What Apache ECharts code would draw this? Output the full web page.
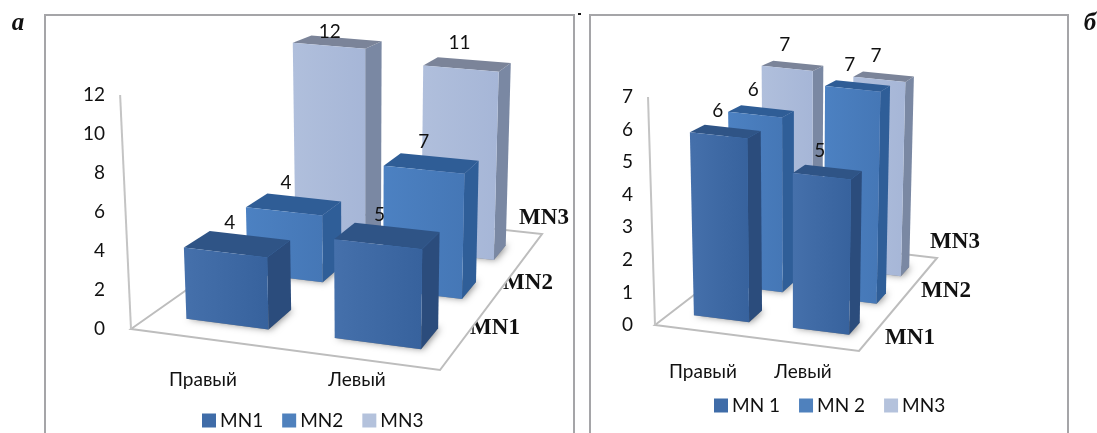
<!DOCTYPE html>
<html><head><meta charset="utf-8">
<style>html,body{margin:0;padding:0;background:#fff}#c{width:1097px;height:433px}</style>
<script src="https://cdn.jsdelivr.net/npm/echarts@6/dist/echarts.min.js"></script>
</head><body><div id="c"></div>
<script>
const categories = ['Правый', 'Левый'];
const namesA = ['MN1', 'MN2', 'MN3'];
const namesB = ['MN 1', 'MN 2', 'MN3'];
const depthLabels = ['MN1', 'MN2', 'MN3'];
// heights; the drawn labels are these values rounded
const a_MN1 = [3.85, 5.2];
const a_MN2 = [3.9, 7.1];
const a_MN3 = [12.1, 11.4];
const b_MN1 = [5.8, 4.9];
const b_MN2 = [5.85, 7.0];
const b_MN3 = [6.85, 6.8];
const ticksA = {min: 0, max: 12, interval: 2};
const ticksB = {min: 0, max: 7, interval: 1};

const FONT = 'Lato';
const FS = 19;
const palette = [
  {front: ['#4570ab', '#37629d'], top: '#2f5486', side: '#2b4c7c', legend: '#3f6ca8'},
  {front: ['#4c81c2', '#4577b6'], top: '#2f5d96', side: '#2f5e98', legend: '#4f81bd'},
  {front: ['#b0bfdc', '#a6b6d7'], top: '#7b8499', side: '#7a88a3', legend: '#b4c2dc'}
];

function makeCamera(c) {
  const [p0, p1, p2, p3] = c.floor;
  const dx1 = p1[0]-p2[0], dx2 = p3[0]-p2[0], sx = p0[0]-p1[0]+p2[0]-p3[0];
  const dy1 = p1[1]-p2[1], dy2 = p3[1]-p2[1], sy = p0[1]-p1[1]+p2[1]-p3[1];
  const det = dx1*dy2-dx2*dy1;
  const g = (sx*dy2-dx2*sy)/det, h = (dx1*sy-sx*dy1)/det;
  const A = p1[0]-p0[0]+g*p1[0], B = p3[0]-p0[0]+h*p3[0];
  const D = p1[1]-p0[1]+g*p1[1], E = p3[1]-p0[1]+h*p3[1];
  const K = 1/(c.vp[1]-p0[1]+c.axisPx);
  return function (u, v, hpx) {
    const t = -hpx*K;
    const W = g*u+h*v+1+t;
    return [(A*u+B*v+p0[0]+t*c.vp[0])/W, (D*u+E*v+p0[1]+t*c.vp[1])/W];
  };
}

const camA = makeCamera({floor: [[131,329],[440,370],[542,234],[303,208]], vp: [364,5340], axisPx: 234});
const camB = makeCamera({floor: [[655,325],[859,351],[937,258],[768,238]], vp: [795,4894], axisPx: 228});

function barRender(cam, vc, pal, bw, bd, uShift, labelMinY) {
  return function (params, api) {
    const cat = api.value(0), val = api.value(1);
    const base = api.coord([cat, 0]), top = api.coord([cat, val]);
    const cs = params.coordSys;
    const uc = (base[0]-cs.x)/cs.width + uShift;
    const hpx = base[1]-top[1];
    const u0 = uc-bw/2, u1 = uc+bw/2, v0 = vc-bd/2, v1 = vc+bd/2;
    const fl0 = cam(u0,v0,0), fr0 = cam(u1,v0,0), br0 = cam(u1,v1,0), bl0 = cam(u0,v1,0);
    const fl = cam(u0,v0,hpx), fr = cam(u1,v0,hpx), br = cam(u1,v1,hpx), bl = cam(u0,v1,hpx);
    const tc = cam(uc,vc,hpx);
    const grad = new echarts.graphic.LinearGradient(0,0,1,0,[{offset:0,color:pal.front[0]},{offset:1,color:pal.front[1]}]);
    return {type:'group', children:[
      {type:'polygon', shape:{points:[fl0,fr0,br0,bl0]}, style:{fill:'#888', shadowColor:'rgba(0,0,0,0.45)', shadowBlur:7, shadowOffsetX:2}},
      {type:'polygon', shape:{points:[fr0,br0,br,fr]}, style:{fill:pal.side}},
      {type:'polygon', shape:{points:[fl,fr,br,bl]}, style:{fill:pal.top}},
      {type:'polygon', shape:{points:[fl0,fr0,fr,fl]}, style:{fill:grad}},
      {type:'text', style:{x:tc[0]-8, y:Math.max(tc[1]-21, labelMinY), text:String(Math.round(val)), fill:'#111',
        font:FS+'px '+FONT, align:'center', verticalAlign:'middle'}}
    ]};
  };
}

function sceneRender(cam, axisPx) {
  return function () {
    const f = [cam(0,0,0), cam(1,0,0), cam(1,1,0), cam(0,1,0)];
    return {type:'group', children:[
      {type:'polygon', shape:{points:f}, style:{fill:'#fff', stroke:'#bdbdbd', lineWidth:2}},
      {type:'line', shape:{x1:f[0][0], y1:f[0][1], x2:cam(0,0,axisPx)[0], y2:cam(0,0,axisPx)[1]},
        style:{stroke:'#c4c4c4', lineWidth:2}}
    ]};
  };
}

function panelSeries(idx, cam, axisPx, names, rows, vcs, bw, bd, uShift, labelMinY) {
  const out = [{type:'custom', coordinateSystem:'cartesian2d', xAxisIndex:idx, yAxisIndex:idx,
    silent:true, clip:false, z:1, data:[[0,0]], renderItem:sceneRender(cam, axisPx)}];
  for (let d = 2; d >= 0; d--) {
    out.push({type:'custom', name:names[d], coordinateSystem:'cartesian2d', xAxisIndex:idx, yAxisIndex:idx,
      clip:false, silent:true, z:5-d, itemStyle:{color:palette[d].legend},
      encode:{x:0,y:1},
      data:rows[d].map((v,i)=>[i,v]),
      renderItem:barRender(cam, vcs[d], palette[d], bw, bd, uShift, labelMinY)});
  }
  return out;
}

function xAxisOf(idx, margin) {
  return {type:'category', gridIndex:idx, data:categories, axisLine:{show:false}, axisTick:{show:false},
    splitLine:{show:false}, axisLabel:{margin, fontFamily:FONT, fontSize:FS, color:'#111'}};
}
function yAxisOf(idx, t, margin) {
  return {type:'value', gridIndex:idx, min:t.min, max:t.max, interval:t.interval, axisLine:{show:false},
    axisTick:{show:false}, splitLine:{show:false}, axisLabel:{margin, fontFamily:FONT, fontSize:FS, color:'#111'}};
}
function legendOf(names, left, top, gap) {
  return {data:names, left, top, orient:'horizontal', itemWidth:14, itemHeight:14, itemGap:gap, icon:'rect',
    selectedMode:false, textStyle:{fontFamily:FONT, fontSize:FS, color:'#111', padding:[0,0,0,-1]}, padding:0};
}
function frame(x0, x1) {
  return {type:'polyline', shape:{points:[[x0,433],[x0,15],[x1,15],[x1,433]]},
    style:{fill:null, stroke:'#a5a5a8', lineWidth:2}, silent:true};
}
function bold(text, cx, cy) {
  return {type:'text', style:{x:cx, y:cy, text, font:'bold 23px "Liberation Serif"', fill:'#111',
    align:'center', verticalAlign:'middle'}};
}
function tag(text, cx, cy) {
  return {type:'text', style:{x:cx, y:cy, text, font:'italic bold 25px "Liberation Serif"', fill:'#111',
    align:'center', verticalAlign:'middle'}};
}

const option = {
  animation:false, backgroundColor:'#fff',
  grid:[
    {left:126, width:308, top:95, height:234},
    {left:653, width:200, top:97, height:228}
  ],
  xAxis:[xAxisOf(0,41), xAxisOf(1,37)],
  yAxis:[yAxisOf(0,ticksA,21), yAxisOf(1,ticksB,20)],
  legend:[legendOf(namesA,202,411,19), legendOf(namesB,714,396,19)],
  series:[
    ...panelSeries(0, camA, 234, namesA, [a_MN1,a_MN2,a_MN3], [0.16,0.49,0.80], 0.28, 0.13, 0.01, 32),
    ...panelSeries(1, camB, 228, namesB, [b_MN1,b_MN2,b_MN3], [0.18,0.49,0.80], 0.28, 0.115, 0.005, 32)
  ],
  graphic:[
    frame(45,574), frame(590,1068),
    tag('а',18,24), tag('б',1090,24),
    {type:'rect', shape:{x:578,y:13,width:3,height:2}, style:{fill:'#111'}, silent:true},
    bold(depthLabels[0],495,328), bold(depthLabels[1],528,283), bold(depthLabels[2],544,218),
    bold(depthLabels[0],910,338), bold(depthLabels[1],946,291), bold(depthLabels[2],955,242)
  ]
};
echarts.init(document.getElementById('c'), null, {renderer:'canvas'}).setOption(option);
</script></body></html>
